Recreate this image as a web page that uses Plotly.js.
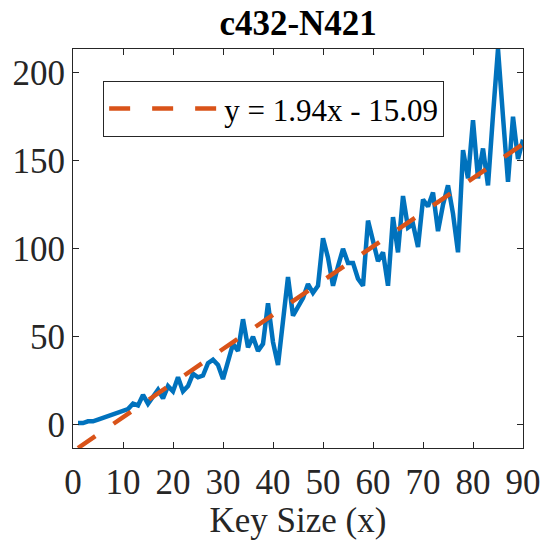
<!DOCTYPE html>
<html>
<head>
<meta charset="utf-8">
<script src="https://cdn.plot.ly/plotly-3.0.1.min.js"></script>
<style>html,body{margin:0;padding:0;background:#fff;}#chart{width:544px;height:540px;}</style>
</head>
<body>
<div id="chart"></div>
<script>
const keySize = [];
for (let i = 1; i <= 90; i++) keySize.push(i);
const runtime = [1, 1, 2, 2, 3, 4, 5, 6, 7, 8.5,
  9, 12, 11, 17, 12, 16, 20, 15, 22, 19,
  27, 19, 22, 29, 27, 28, 35, 37, 34, 26,
  36, 46, 42, 60, 44, 50, 42, 46, 69, 47,
  34, 60, 84, 62, 67, 72, 80, 75, 79, 106,
  95, 79, 90, 100, 92, 92, 83, 79, 116, 105,
  93, 98, 79, 118, 98, 130, 112, 114, 101, 128,
  124, 132, 110, 125, 136, 120, 98, 156, 140, 173,
  140, 157, 136, 176, 213.5, 175, 138, 175, 151, 162];
const fitX = [1, 90];
const fitY = [-13.15, 159.51];
const fitLabel = 'y = 1.94x - 15.09';
const xTicks = [0, 10, 20, 30, 40, 50, 60, 70, 80, 90];
const yTicks = [0, 50, 100, 150, 200];

const serif = 'Liberation Serif, Times New Roman, serif';
const axisCommon = {
  showline: true, mirror: 'ticks', linecolor: '#262626', linewidth: 1,
  ticks: 'inside', ticklen: 6, tickcolor: '#262626', tickwidth: 1,
  showgrid: false, zeroline: false,
  tickfont: {family: serif, size: 35, color: '#262626'}
};

const traces = [
  {x: keySize, y: runtime, type: 'scatter', mode: 'lines', showlegend: false,
   line: {color: '#0072BD', width: 4.5}},
  {x: fitX, y: fitY, type: 'scatter', mode: 'lines', name: fitLabel,
   line: {color: '#D95319', width: 4.5, dash: '21px,22px'}}
];

const layout = {
  width: 544, height: 540,
  margin: {l: 73, r: 21, t: 49, b: 92},
  paper_bgcolor: '#fff', plot_bgcolor: '#fff',
  title: {text: '<b>c432-N421</b>', x: 0.548, xanchor: 'center', y: 0.958, yanchor: 'middle',
          font: {family: serif, size: 35, color: '#000'}},
  xaxis: Object.assign({}, axisCommon, {range: [0, 90], tickvals: xTicks, ticklabelstandoff: 3,
          title: {text: 'Key Size (x)', font: {family: serif, size: 35, color: '#262626'}, standoff: 19}}),
  yaxis: Object.assign({}, axisCommon, {range: [-13.15, 213.5], tickvals: yTicks}),
  showlegend: true,
  legend: {x: 0.067, y: 0.92, xanchor: 'left', yanchor: 'top',
           bordercolor: '#262626', borderwidth: 1, bgcolor: '#fff',
           itemwidth: 110,
           font: {family: serif, size: 31, color: '#000'}}
};

Plotly.newPlot('chart', traces, layout, {displayModeBar: false, staticPlot: true});
</script>
</body>
</html>
